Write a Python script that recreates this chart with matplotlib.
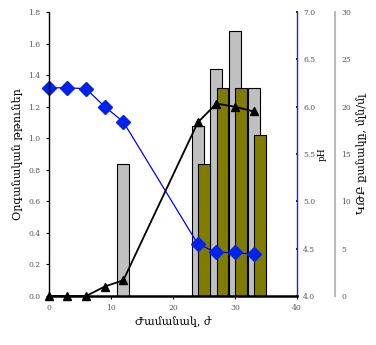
import matplotlib
matplotlib.use("Agg")
import matplotlib.pyplot as plt
import matplotlib.ticker as mticker

# time points (h)
time_acid = [0, 3, 6, 9, 12, 24, 27, 30, 33]
acid = [0.0, 0.0, 0.0, 0.06, 0.10, 1.10, 1.22, 1.20, 1.17]

time_ph = [0, 3, 6, 9, 12, 24, 27, 30, 33]
ph = [6.20, 6.20, 6.19, 6.00, 5.84, 4.55, 4.46, 4.46, 4.44]

# bars on the third axis
gray_x = [12, 24, 27, 30, 33]
gray_h = [14, 18, 24, 28, 22]
olive_x = [25, 28, 31, 34]
olive_h = [14, 22, 22, 17]

xticks = [0, 10, 20, 30, 40]
acid_ticks = [0.0, 0.2, 0.4, 0.6, 0.8, 1.0, 1.2, 1.4, 1.6, 1.8]
ph_ticks = [4.0, 4.5, 5.0, 5.5, 6.0, 6.5, 7.0]
count_ticks = [0, 5, 10, 15, 20, 25, 30]

plt.rcParams["font.family"] = ["DejaVu Serif", "DejaVu Sans"]

fig = plt.figure(figsize=(3.76, 3.45), dpi=100)
fig.patch.set_facecolor("white")
ax = fig.add_axes([0.130, 0.142, 0.660, 0.823])
ax3 = ax.twinx()
ax2 = ax.twinx()

# bars behind, lines on top
ax3.set_zorder(1)
ax2.set_zorder(2)
ax.set_zorder(3)
ax.patch.set_visible(False)
ax2.patch.set_visible(False)

ax3.bar(gray_x, gray_h, width=1.9, color="#c0c0c0", edgecolor="black", linewidth=0.8)
ax3.bar(olive_x, olive_h, width=1.9, color="#807c00", edgecolor="black", linewidth=0.8)

ax2.plot(time_ph, ph, color="#0000ff", linewidth=0.9, marker="D",
         markersize=7, markerfacecolor="#0022ee", markeredgecolor="#0022ee",
         clip_on=False)
ax.plot(time_acid, acid, color="black", linewidth=1.3, marker="^",
        markersize=6, markerfacecolor="black", clip_on=False, zorder=5)

ax.set_xlim(0, 40)
ax.set_ylim(0, 1.8)
ax2.set_ylim(4.0, 7.0)
ax3.set_ylim(0, 30)

ax.set_xticks(xticks)
ax.set_yticks(acid_ticks)
ax.yaxis.set_major_formatter(mticker.FormatStrFormatter("%.1f"))
ax2.set_yticks(ph_ticks)
ax2.yaxis.set_major_formatter(mticker.FormatStrFormatter("%.1f"))
ax3.set_yticks(count_ticks)

ax.spines["top"].set_visible(False)
ax.spines["right"].set_visible(False)
ax.spines["bottom"].set_linewidth(1.8)
ax.spines["left"].set_linewidth(1.0)
for a in (ax2, ax3):
    a.spines["top"].set_visible(False)
    a.spines["left"].set_visible(False)
    a.spines["bottom"].set_visible(False)

ax2.spines["right"].set_color("#2a2a9a")
ax2.spines["right"].set_linewidth(1.0)
ax3.spines["right"].set_position(("axes", 1.153))
ax3.spines["right"].set_color("#bbbbbb")
ax3.spines["right"].set_linewidth(1.5)

lab_col = "#555555"
ax.tick_params(axis="both", labelsize=5.5, labelcolor=lab_col, length=2.5, width=0.8)
ax2.tick_params(axis="y", labelsize=5.5, labelcolor=lab_col, length=2, width=1.2,
                direction="inout", color="black")
ax3.tick_params(axis="y", labelsize=5.5, labelcolor=lab_col, length=2, width=1.2,
                direction="inout", color="#555555")

ax.set_xlabel("Ժամանակ, ժ", fontsize=8, labelpad=3)
ax.set_ylabel("Օրգանական թթուներ", fontsize=8, labelpad=4)
ax2.set_ylabel("pH", fontsize=6.5, labelpad=2)
ax3.set_ylabel("ԿԹԲ քանակը, մլն/մլ", fontsize=8, labelpad=4)

fig.savefig("out.png", dpi=100, facecolor="white")
